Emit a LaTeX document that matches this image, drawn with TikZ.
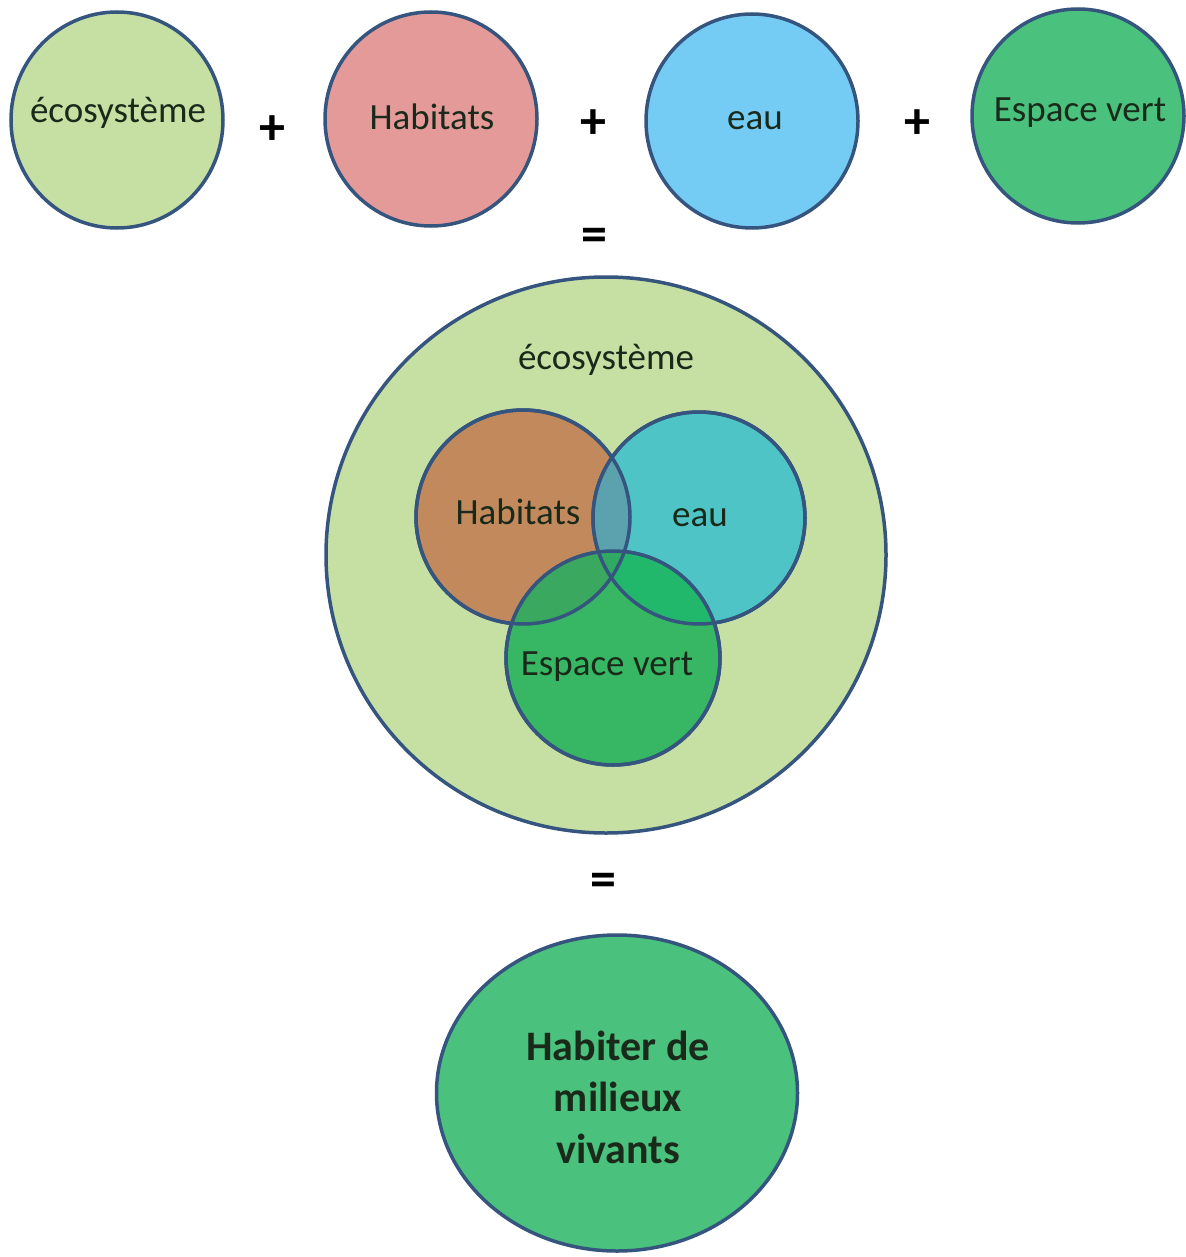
\documentclass[tikz,border=0pt]{standalone}
\usepackage{fontspec}
\setmainfont{Carlito}
\usetikzlibrary{shapes.geometric}
\definecolor{bord}{HTML}{35557F}
\definecolor{cEco}{HTML}{C6E0A4}
\definecolor{cHab}{HTML}{E59A9A}
\definecolor{cEau}{HTML}{74CCF4}
\definecolor{cVert}{HTML}{4AC27E}
\definecolor{iHab}{HTML}{C28A5C}
\definecolor{iEau}{HTML}{4EC4C6}
\definecolor{iVert}{HTML}{37B663}
\definecolor{iHE}{HTML}{5CA2AE}
\definecolor{iHV}{HTML}{3BA860}
\definecolor{iEV}{HTML}{22B86B}
\definecolor{iHEV}{HTML}{30AA62}
\definecolor{txt}{HTML}{1A2A1A}
\begin{document}
\begin{tikzpicture}[x=1pt,y=-1pt,
  blob/.style={ellipse, draw=bord, line width=3.5pt, inner sep=0pt},
  lab/.style={inner sep=0pt, text=txt, font=\fontsize{37}{44}\selectfont},
  op/.style={inner sep=0pt, text=black, font=\bfseries\fontsize{52}{52}\selectfont},
  edge/.style={draw=bord, line width=3.5pt}]
\useasboundingbox (0,0) rectangle (1185,1257);
% top row
\node[blob, fill=cEco, minimum width=212pt, minimum height=216pt] (t1) at (117,120) {};
\node[blob, fill=cHab, minimum width=212pt, minimum height=214pt] (t2) at (431,119) {};
\node[blob, fill=cEau, minimum width=212pt, minimum height=214pt] (t3) at (752,121) {};
\node[blob, fill=cVert, minimum width=212pt, minimum height=214pt] (t4) at (1078,116) {};
\node[lab] (t1l) at (118,113) {écosystème};
\node[lab] (t2l) at (432,117) {Habitats};
\node[lab] (t3l) at (755,121) {eau};
\node[lab] (t4l) at (1080,113) {Espace vert};
\node[op] (p1) at (272,130) {+};
\node[op] (p2) at (593,124) {+};
\node[op] (p3) at (917,124) {+};
\node[op] (e1) at (594,240) {=};
% big circle
\node[blob, fill=cEco, minimum width=560pt, minimum height=556pt] (big) at (606,555) {};
\node[lab] (bigl) at (606,360) {écosystème};
% venn
\node[blob, circle, fill=iHab, minimum size=214pt] (hab) at (523,517) {};
\node[blob, circle, fill=iEau, minimum size=212pt] (eau) at (699,518) {};
\node[blob, circle, fill=iVert, minimum size=214pt] (vert) at (613,658) {};
\begin{scope}
  \clip (hab.center) circle (107pt);
  \fill[iHE] (eau.center) circle (106pt);
  \fill[iHV] (vert.center) circle (107pt);
\end{scope}
\begin{scope}
  \clip (eau.center) circle (106pt);
  \fill[iEV] (vert.center) circle (107pt);
\end{scope}
\begin{scope}
  \clip (hab.center) circle (107pt);
  \clip (eau.center) circle (106pt);
  \fill[iHEV] (vert.center) circle (107pt);
\end{scope}
\draw[edge] (hab.center) circle (107pt);
\draw[edge] (eau.center) circle (106pt);
\draw[edge] (vert.center) circle (107pt);
\node[lab] (habl) at (518,512) {Habitats};
\node[lab] (eaul) at (700,518) {eau};
\node[lab] (vertl) at (607,667) {Espace vert};
% result
\node[op] (e2) at (603,885) {=};
\node[blob, fill=cVert, minimum width=361pt, minimum height=316pt] (res) at (617,1093) {};
\node[inner sep=0pt, text=txt, align=center, font=\bfseries\fontsize{42}{51.5}\selectfont] (resl) at (618,1097) {Habiter de\\milieux\\vivants};
\end{tikzpicture}
\end{document}
